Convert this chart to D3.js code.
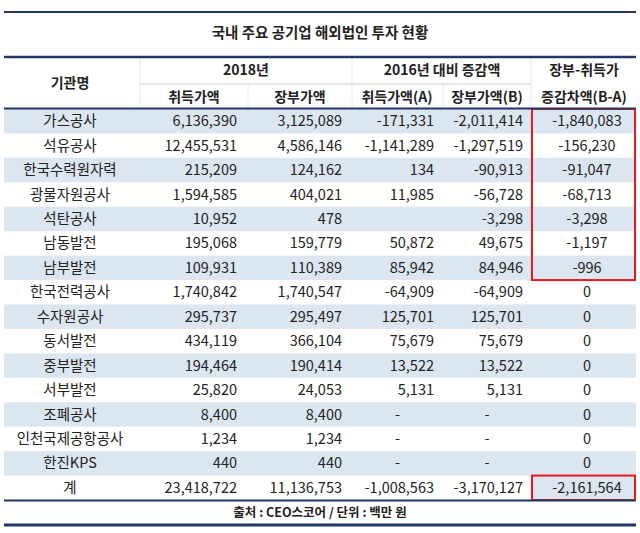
<!DOCTYPE html>
<html><head><meta charset="utf-8">
<script src="https://cdn.jsdelivr.net/npm/d3@7"></script>
<style>body{margin:0;background:#fff}text{font-family:"Noto Sans CJK KR",sans-serif;fill:#222}</style>
</head><body><svg id="c" width="640" height="533"></svg>
<script>
const title = "국내 주요 공기업 해외법인 투자 현황";
const source = "출처 : CEO스코어 / 단위 : 백만 원";
const orgs = ["가스공사","석유공사","한국수력원자력","광물자원공사","석탄공사","남동발전","남부발전","한국전력공사","수자원공사","동서발전","중부발전","서부발전","조폐공사","인천국제공항공사","한진KPS","계"];
const acq2018 = ["6,136,390","12,455,531","215,209","1,594,585","10,952","195,068","109,931","1,740,842","295,737","434,119","194,464","25,820","8,400","1,234","440","23,418,722"];
const book2018 = ["3,125,089","4,586,146","124,162","404,021","478","159,779","110,389","1,740,547","295,497","366,104","190,414","24,053","8,400","1,234","440","11,136,753"];
const acqChg = ["-171,331","-1,141,289","134","11,985","","50,872","85,942","-64,909","125,701","75,679","13,522","5,131","-","-","-","-1,008,563"];
const bookChg = ["-2,011,414","-1,297,519","-90,913","-56,728","-3,298","49,675","84,946","-64,909","125,701","75,679","13,522","5,131","-","-","-","-3,170,127"];
const diff = ["-1,840,083","-156,230","-91,047","-68,713","-3,298","-1,197","-996","0","0","0","0","0","0","0","0","-2,161,564"];
const highlighted = 7; // first rows boxed in red

const svg = d3.select("#c");
const y = d3.scaleBand().domain(d3.range(orgs.length)).range([109, 500]);
const shade = "#dce6f1", navy = "#1f3864";

// Column edges and text anchors
const cols = [
  {x0: 0, x1: 140, vals: orgs, anchor: "middle", tx: 70},
  {x0: 140, x1: 248, vals: acq2018, anchor: "end", tx: 237},
  {x0: 248, x1: 352, vals: book2018, anchor: "end", tx: 342},
  {x0: 352, x1: 443, vals: acqChg, anchor: "end", tx: 434},
  {x0: 443, x1: 531, vals: bookChg, anchor: "end", tx: 523},
  {x0: 531, x1: 636, vals: diff, anchor: "middle", tx: 587}
];

// Row shading
svg.selectAll("rect.band").data(d3.range(orgs.length).filter(i => i % 2 === 0 && i < orgs.length - 1))
  .join("rect").attr("x", 4).attr("width", 632)
  .attr("y", i => y(i)).attr("height", y.bandwidth()).attr("fill", shade);
svg.append("rect").attr("x", 531).attr("width", 105)
  .attr("y", y(orgs.length - 1)).attr("height", y.bandwidth()).attr("fill", shade);

// Cells (dashes sit in the middle of their column)
cols.forEach(c => {
  svg.append("g").selectAll("text").data(c.vals).join("text")
    .attr("x", d => d === "-" ? (c.x0 + c.x1) / 2 : c.tx)
    .attr("y", (d, i) => y(i) + y.bandwidth() / 2)
    .attr("dy", "0.35em").attr("text-anchor", d => d === "-" ? "middle" : c.anchor)
    .attr("font-size", 14.5).text(d => d);
});

// Red boxes
svg.append("rect").attr("x", 532).attr("y", y(0)).attr("width", 103)
  .attr("height", y(highlighted) - y(0)).attr("fill", "none").attr("stroke", "#e8191c").attr("stroke-width", 2);
svg.append("rect").attr("x", 532).attr("y", y(orgs.length - 1)).attr("width", 103)
  .attr("height", y.bandwidth()).attr("fill", "none").attr("stroke", "#e8191c").attr("stroke-width", 2);

// Header
const hdr = (x, yy, t) => svg.append("text").attr("x", x).attr("y", yy).attr("dy", "0.35em")
  .attr("text-anchor", "middle").attr("font-size", 14).attr("font-weight", "bold").text(t);
hdr(70, 83, "기관명");
hdr(246, 70, "2018년");
hdr(442, 70, "2016년 대비 증감액");
hdr(584, 70, "장부-취득가");
hdr(584, 97, "증감차액(B-A)");
hdr(194, 97, "취득가액");
hdr(300, 97, "장부가액");
hdr(397, 97, "취득가액(A)");
hdr(487, 97, "장부가액(B)");
svg.append("line").attr("x1", 140).attr("x2", 531).attr("y1", 84).attr("y2", 84).attr("stroke", "#c8d2e0");
[140, 352, 531].forEach(x => svg.append("line").attr("x1", x).attr("x2", x).attr("y1", 58).attr("y2", 108).attr("stroke", "#e4e9f0"));
[248, 443].forEach(x => svg.append("line").attr("x1", x).attr("x2", x).attr("y1", 84).attr("y2", 108).attr("stroke", "#e4e9f0"));

// Title, rules, footer
svg.append("text").attr("x", 320).attr("y", 33).attr("dy", "0.35em").attr("text-anchor", "middle")
  .attr("font-size", 14.5).attr("font-weight", "bold").text(title);
[[12, 2], [57, 2.5], [108.5, 2], [500.5, 2], [525, 3]].forEach(([yy, w]) =>
  svg.append("line").attr("x1", 4).attr("x2", 636).attr("y1", yy).attr("y2", yy).attr("stroke", navy).attr("stroke-width", w));
svg.append("text").attr("x", 320).attr("y", 513).attr("dy", "0.35em").attr("text-anchor", "middle")
  .attr("font-size", 12.5).attr("font-weight", "bold").text(source);
</script></body></html>
